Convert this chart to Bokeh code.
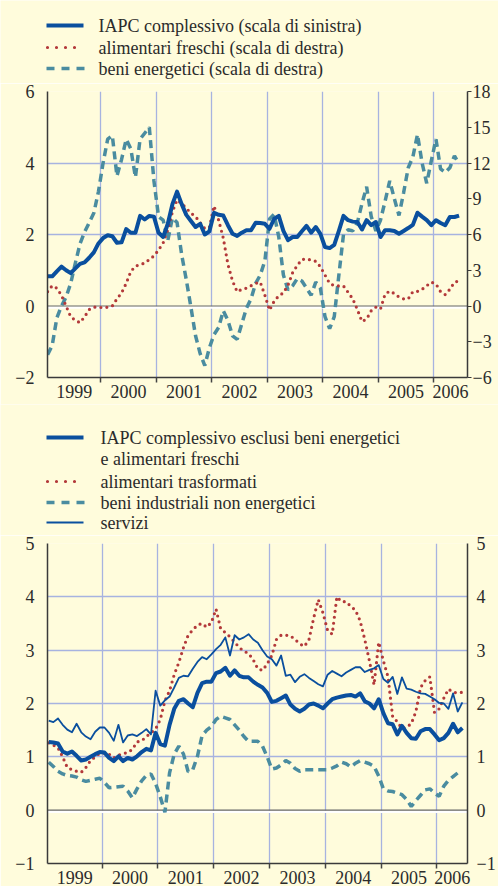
from bokeh.plotting import figure
from bokeh.models import Range1d, LinearAxis, FixedTicker, Span, CustomJSTickFormatter
from bokeh.layouts import column
from bokeh.embed import file_html
from bokeh.resources import INLINE
from bokeh.core.properties import value

# ---------------- data (monthly, Jan 1999 - Jun 2006) ----------------
start_year = 1999
n_months = 90
years = [1999, 2000, 2001, 2002, 2003, 2004, 2005, 2006]

# Panel 1
iapc_total = [0.83, 0.83, 0.97, 1.10, 1.00, 0.92, 1.05, 1.18, 1.22, 1.35, 1.50, 1.75,
              1.90, 1.98, 1.95, 1.77, 1.78, 2.15, 2.05, 2.05, 2.52, 2.42, 2.52, 2.50,
              2.05, 1.93, 2.30, 2.85, 3.20, 2.85, 2.55, 2.38, 2.21, 2.30, 2.00, 2.09,
              2.61, 2.55, 2.53, 2.26, 2.02, 1.96, 2.05, 2.12, 2.12, 2.33, 2.32, 2.30,
              2.16, 2.44, 2.52, 2.10, 1.84, 1.93, 1.93, 2.09, 2.24, 2.05, 2.21, 2.02,
              1.65, 1.62, 1.71, 2.10, 2.52, 2.40, 2.36, 2.35, 2.14, 2.40, 2.26, 2.35,
              1.93, 2.12, 2.12, 2.10, 2.02, 2.10, 2.18, 2.27, 2.61, 2.50, 2.40, 2.26,
              2.40, 2.32, 2.26, 2.49, 2.49, 2.53]
fresh_food = [1.2, 1.7, 1.5, 0.9, 0.0, -0.9, -1.2, -1.4, -0.9, -0.3, -0.1, -0.1,
              -0.15, -0.1, 0.0, 0.6, 1.1, 1.9, 2.9, 3.35, 3.47, 3.6, 3.9, 4.2,
              4.7, 5.3, 6.4, 7.9, 8.9, 8.6, 8.2, 7.8, 7.5, 7.0, 6.5, 6.6,
              8.4, 7.2, 5.7, 3.5, 2.1, 1.2, 1.4, 1.5, 1.7, 1.9, 2.0, 0.9,
              -0.35, 0.4, 0.85, 1.1, 1.75, 2.8, 3.4, 3.9, 3.95, 3.85, 3.75, 3.3,
              2.6, 1.9, 1.7, 1.68, 1.68, 1.15, 0.6, -0.3, -1.3, -1.1, -0.4, -0.1,
              -0.25, 1.0, 1.25, 1.05, 0.75, 0.6, 0.6, 1.2, 1.23, 1.4, 1.7, 2.0,
              1.85, 1.2, 0.95, 1.4, 2.0, 2.1]
energy = [-4.1, -3.3, -1.0, 0.0, 0.75, 1.9, 3.6, 5.2, 6.2, 7.0, 7.8, 9.6,
          12.0, 14.0, 14.3, 10.9, 12.3, 14.0, 13.2, 10.8, 14.0, 14.5, 15.0, 10.5,
          7.5, 7.2, 5.5, 7.4, 7.0, 4.3, 2.2, -0.1, -2.5, -4.0, -5.0, -3.5,
          -2.4, -1.8, -0.4, -1.2, -2.5, -2.8, -1.5, -0.2, 0.6, 1.9, 2.6, 3.8,
          7.3, 7.7, 5.8, 2.6, 1.35, 1.7, 2.3, 2.1, 1.5, 0.9, 2.0, 1.5,
          -0.9, -1.9, -0.9, 2.6, 6.0, 6.4, 6.3, 7.0, 8.6, 10.0, 7.5, 6.3,
          7.2, 8.8, 10.5, 9.0, 7.6, 9.5, 11.6, 12.5, 14.4, 12.0, 10.3, 12.2,
          14.0, 11.5, 11.2, 11.6, 12.6, 11.9]

# Panel 2
core = [1.28, 1.27, 1.25, 1.10, 1.06, 1.10, 1.02, 0.93, 0.95, 1.00, 1.05, 1.09,
        1.08, 0.98, 0.92, 1.01, 0.92, 0.98, 0.95, 1.01, 1.09, 1.15, 1.12, 1.45,
        1.24, 1.21, 1.60, 1.90, 2.05, 2.08, 2.00, 1.93, 2.20, 2.38, 2.41, 2.41,
        2.57, 2.60, 2.67, 2.52, 2.62, 2.52, 2.49, 2.49, 2.41, 2.35, 2.30, 2.20,
        2.03, 2.05, 2.10, 2.15, 1.98, 1.90, 1.85, 1.90, 1.98, 2.00, 1.96, 1.91,
        2.00, 2.08, 2.11, 2.13, 2.15, 2.16, 2.13, 2.19, 2.04, 2.00, 1.91, 2.08,
        1.82, 1.63, 1.61, 1.42, 1.58, 1.45, 1.35, 1.34, 1.48, 1.52, 1.52, 1.42,
        1.31, 1.35, 1.45, 1.62, 1.46, 1.54]
processed_food = [1.26, 1.22, 1.17, 1.00, 0.80, 0.76, 0.73, 0.71, 0.80, 0.93, 1.00, 1.07,
                  1.07, 1.05, 0.98, 1.03, 1.06, 1.08, 1.14, 1.28, 1.30, 1.38, 1.45, 1.52,
                  1.70, 2.05, 2.24, 2.54, 2.77, 3.05, 3.28, 3.38, 3.47, 3.50, 3.43, 3.52,
                  3.77, 3.40, 3.33, 3.25, 3.15, 3.05, 2.98, 2.94, 2.82, 2.65, 2.62, 2.74,
                  2.90, 3.20, 3.28, 3.28, 3.27, 3.20, 3.12, 3.07, 3.20, 3.60, 3.95, 3.70,
                  3.37, 3.30, 4.00, 3.91, 3.91, 3.82, 3.75, 3.55, 3.20, 2.80, 2.35, 3.15,
                  2.80, 2.50, 1.75, 1.66, 1.53, 1.56, 1.62, 1.85, 2.30, 2.43, 2.50, 1.83,
                  1.90, 2.10, 2.27, 2.21, 2.20, 2.21]
non_energy_goods = [0.90, 0.82, 0.73, 0.68, 0.65, 0.64, 0.62, 0.57, 0.54, 0.56, 0.58, 0.60,
                    0.52, 0.42, 0.43, 0.44, 0.45, 0.36, 0.23, 0.40, 0.55, 0.65, 0.68, 0.50,
                    0.25, -0.04, 0.70, 1.05, 1.20, 1.05, 0.72, 0.76, 1.01, 1.40, 1.50, 1.57,
                    1.70, 1.76, 1.73, 1.70, 1.60, 1.50, 1.38, 1.29, 1.29, 1.29, 1.20, 1.00,
                    0.77, 0.79, 0.85, 0.93, 0.88, 0.78, 0.73, 0.76, 0.76, 0.76, 0.76, 0.76,
                    0.76, 0.79, 0.83, 0.90, 0.87, 0.81, 0.88, 0.93, 0.90, 0.87, 0.82, 0.64,
                    0.40, 0.36, 0.35, 0.32, 0.29, 0.20, 0.07, 0.18, 0.28, 0.38, 0.40, 0.32,
                    0.26, 0.45, 0.56, 0.63, 0.70, 0.72]
services = [1.68, 1.65, 1.72, 1.60, 1.51, 1.46, 1.62, 1.46, 1.38, 1.33, 1.47, 1.55,
            1.55, 1.45, 1.30, 1.60, 1.27, 1.40, 1.42, 1.39, 1.45, 1.52, 1.42, 2.24,
            1.96, 2.06, 2.13, 2.30, 2.48, 2.52, 2.51, 2.65, 2.78, 2.87, 2.83, 2.92,
            3.02, 3.10, 3.24, 2.90, 3.28, 3.20, 3.24, 3.30, 3.20, 3.14, 3.00, 2.88,
            2.83, 2.71, 2.90, 2.52, 2.54, 2.40, 2.50, 2.55, 2.48, 2.42, 2.36, 2.32,
            2.54, 2.61, 2.56, 2.51, 2.58, 2.63, 2.68, 2.68, 2.59, 2.63, 2.66, 2.72,
            2.46, 2.39, 2.50, 2.18, 2.49, 2.28, 2.26, 2.22, 2.19, 2.18, 2.13, 2.08,
            2.01, 2.00, 1.90, 2.19, 1.85, 2.02]

legend1_labels = ["IAPC complessivo (scala di sinistra)",
                  "alimentari freschi (scala di destra)",
                  "beni energetici (scala di destra)"]
legend2_labels = ["IAPC complessivo esclusi beni energetici",
                  "e alimentari freschi",
                  "alimentari trasformati",
                  "beni industriali non energetici",
                  "servizi"]

left1_ticks = [-2, 0, 2, 4, 6]
right1_ticks = [-6, -3, 0, 3, 6, 9, 12, 15, 18]
ticks2 = [-1, 0, 1, 2, 3, 4, 5]

# ---------------- style ----------------
BG = "#fffcdc"
GRID = "#a7b3e0"
BLUE = "#0a4f9e"
RED = "#b3393a"
TEAL = "#4a8ca0"
TXT = "#2b2b2b"
FONT = "Liberation Serif"
W = 498

t = [start_year + (m + 0.5) / 12.0 for m in range(n_months)]


def no_align(p):
    try:
        p.frame_align = False
    except Exception:
        pass


def legend_fig(h, rows, texts):
    lf = figure(width=W, height=h, x_range=Range1d(0, W), y_range=Range1d(h, 0),
                x_axis_type=None, y_axis_type=None, toolbar_location=None,
                output_backend="svg", min_border=0, min_border_left=0,
                min_border_right=0, min_border_top=0, min_border_bottom=0,
                outline_line_color=None,
                background_fill_color=BG, border_fill_color=BG)
    no_align(lf)
    for (y, style) in rows:
        if style == "thick":
            lf.line([46, 83], [y, y], line_color=BLUE, line_width=4)
        elif style == "thin":
            lf.line([46, 83], [y, y], line_color=BLUE, line_width=2)
        elif style == "dot":
            lf.line([47, 83], [y, y], line_color=RED, line_width=3.2,
                    line_dash="0 9", line_cap="round")
        elif style == "dash":
            lf.line([46, 84], [y, y], line_color=TEAL, line_width=3.5,
                    line_dash="8 7")
    xs = [tx for (tx, ty, s) in texts]
    ys = [ty for (tx, ty, s) in texts]
    ss = [s for (tx, ty, s) in texts]
    lf.text(x=xs, y=ys, text=ss, text_font=value(FONT), text_font_size="18px",
            text_baseline="middle", text_align="left", text_color=TXT)
    return lf


def chart(height, xr, yr, yr_right, left_ticks, right_ticks, grid_ticks,
          right_tick_out, right_standoff, min_right, min_bottom):
    p = figure(width=W, height=height, x_range=Range1d(*xr), y_range=Range1d(*yr),
               toolbar_location=None, output_backend="svg",
               min_border_left=47, min_border_right=min_right,
               min_border_top=8, min_border_bottom=min_bottom,
               background_fill_color=BG, border_fill_color=BG,
               outline_line_color=None)
    no_align(p)
    p.extra_y_ranges = {"right": Range1d(*yr_right)}
    ra = LinearAxis(y_range_name="right", ticker=FixedTicker(ticks=right_ticks))
    p.add_layout(ra, "right")

    label_pos = [max(y, xr[0]) / 2 + min(y + 1, xr[1]) / 2 for y in years]
    p.xaxis.ticker = FixedTicker(ticks=label_pos, minor_ticks=years[1:])
    p.xaxis.formatter = CustomJSTickFormatter(code="return Math.floor(tick).toString();")
    p.xaxis.major_tick_out = 0
    p.xaxis.major_tick_in = 0
    p.xaxis.minor_tick_in = 0
    p.xaxis.minor_tick_out = 5
    p.xaxis.major_label_standoff = 2

    p.yaxis[0].ticker = FixedTicker(ticks=left_ticks)
    p.yaxis[0].major_tick_out = 0
    p.yaxis[0].major_tick_in = 0
    p.yaxis[0].major_label_standoff = 13
    ra.major_tick_out = right_tick_out
    ra.major_tick_in = 0
    ra.major_label_standoff = right_standoff

    for ax in p.axis:
        ax.axis_line_color = "#3a3a3a"
        ax.axis_line_width = 1.5
        ax.major_label_text_font = FONT
        ax.major_label_text_font_size = "18px"
        ax.major_label_text_color = TXT
    p.yaxis[0].minor_tick_line_color = None
    p.yaxis[0].major_tick_line_color = None
    ra.minor_tick_line_color = None
    ra.major_tick_line_color = "#3a3a3a"
    p.xaxis.major_tick_line_color = None
    p.xaxis.minor_tick_line_color = "#444444"
    p.xaxis.minor_tick_line_width = 1.5

    p.xgrid.ticker = FixedTicker(ticks=years[1:])
    p.ygrid.ticker = FixedTicker(ticks=grid_ticks)
    p.grid.grid_line_color = GRID
    p.grid.grid_line_width = 1.3

    px = (yr[1] - yr[0]) / 300.0
    p.add_layout(Span(location=-1.5 * px, dimension="width", line_color="white",
                      line_width=2.5, level="underlay"))
    p.add_layout(Span(location=0, dimension="width", line_color="#666666",
                      line_width=1.2, level="underlay"))
    return p


# ---------------- legend 1 ----------------
leg1 = legend_fig(83, [(25, "thick"), (47, "dot"), (68, "dash")],
                  [(98, 25, legend1_labels[0]), (98, 47, legend1_labels[1]),
                   (98, 68, legend1_labels[2])])

# ---------------- chart 1 ----------------
p1 = chart(321, (1999.04, 2006.61), (-2, 6), (-6, 18), left1_ticks, right1_ticks,
           [2, 4, 6], 4, 1, 31, 27)
p1.line(t, energy, y_range_name="right", line_color=TEAL, line_width=3.5,
        line_dash="8 5")
p1.line(t, fresh_food, y_range_name="right", line_color=RED, line_width=3.2,
        line_dash="0 6", line_cap="round")
p1.line(t, iapc_total, line_color=BLUE, line_width=4, line_join="round")

# ---------------- legend 2 ----------------
leg2 = legend_fig(131, [(33, "thick"), (77, "dot"), (98, "dash"), (118, "thin")],
                  [(100, 33, legend2_labels[0]), (100, 54, legend2_labels[1]),
                   (100, 77, legend2_labels[2]), (100, 98, legend2_labels[3]),
                   (100, 118, legend2_labels[4])])

# ---------------- chart 2 ----------------
p2 = chart(351, (1999.02, 2006.55), (-1, 5), (-1, 5), ticks2, ticks2,
           [1, 2, 3, 4, 5], 0, 9, 25, 22)
p2.line(t, non_energy_goods, line_color=TEAL, line_width=3.5, line_dash="8 5")
p2.line(t, processed_food, line_color=RED, line_width=3.2, line_dash="0 6",
        line_cap="round")
p2.line(t, services, line_color=BLUE, line_width=1.8, line_join="round")
p2.line(t, core, line_color=BLUE, line_width=4, line_join="round")

layout = column(leg1, p1, leg2, p2, spacing=0)

html = file_html(layout, INLINE, title="IAPC")
html = html.replace("<body>", '<body style="background-color:%s;">' % BG, 1)
open("out.html", "w").write(html)
